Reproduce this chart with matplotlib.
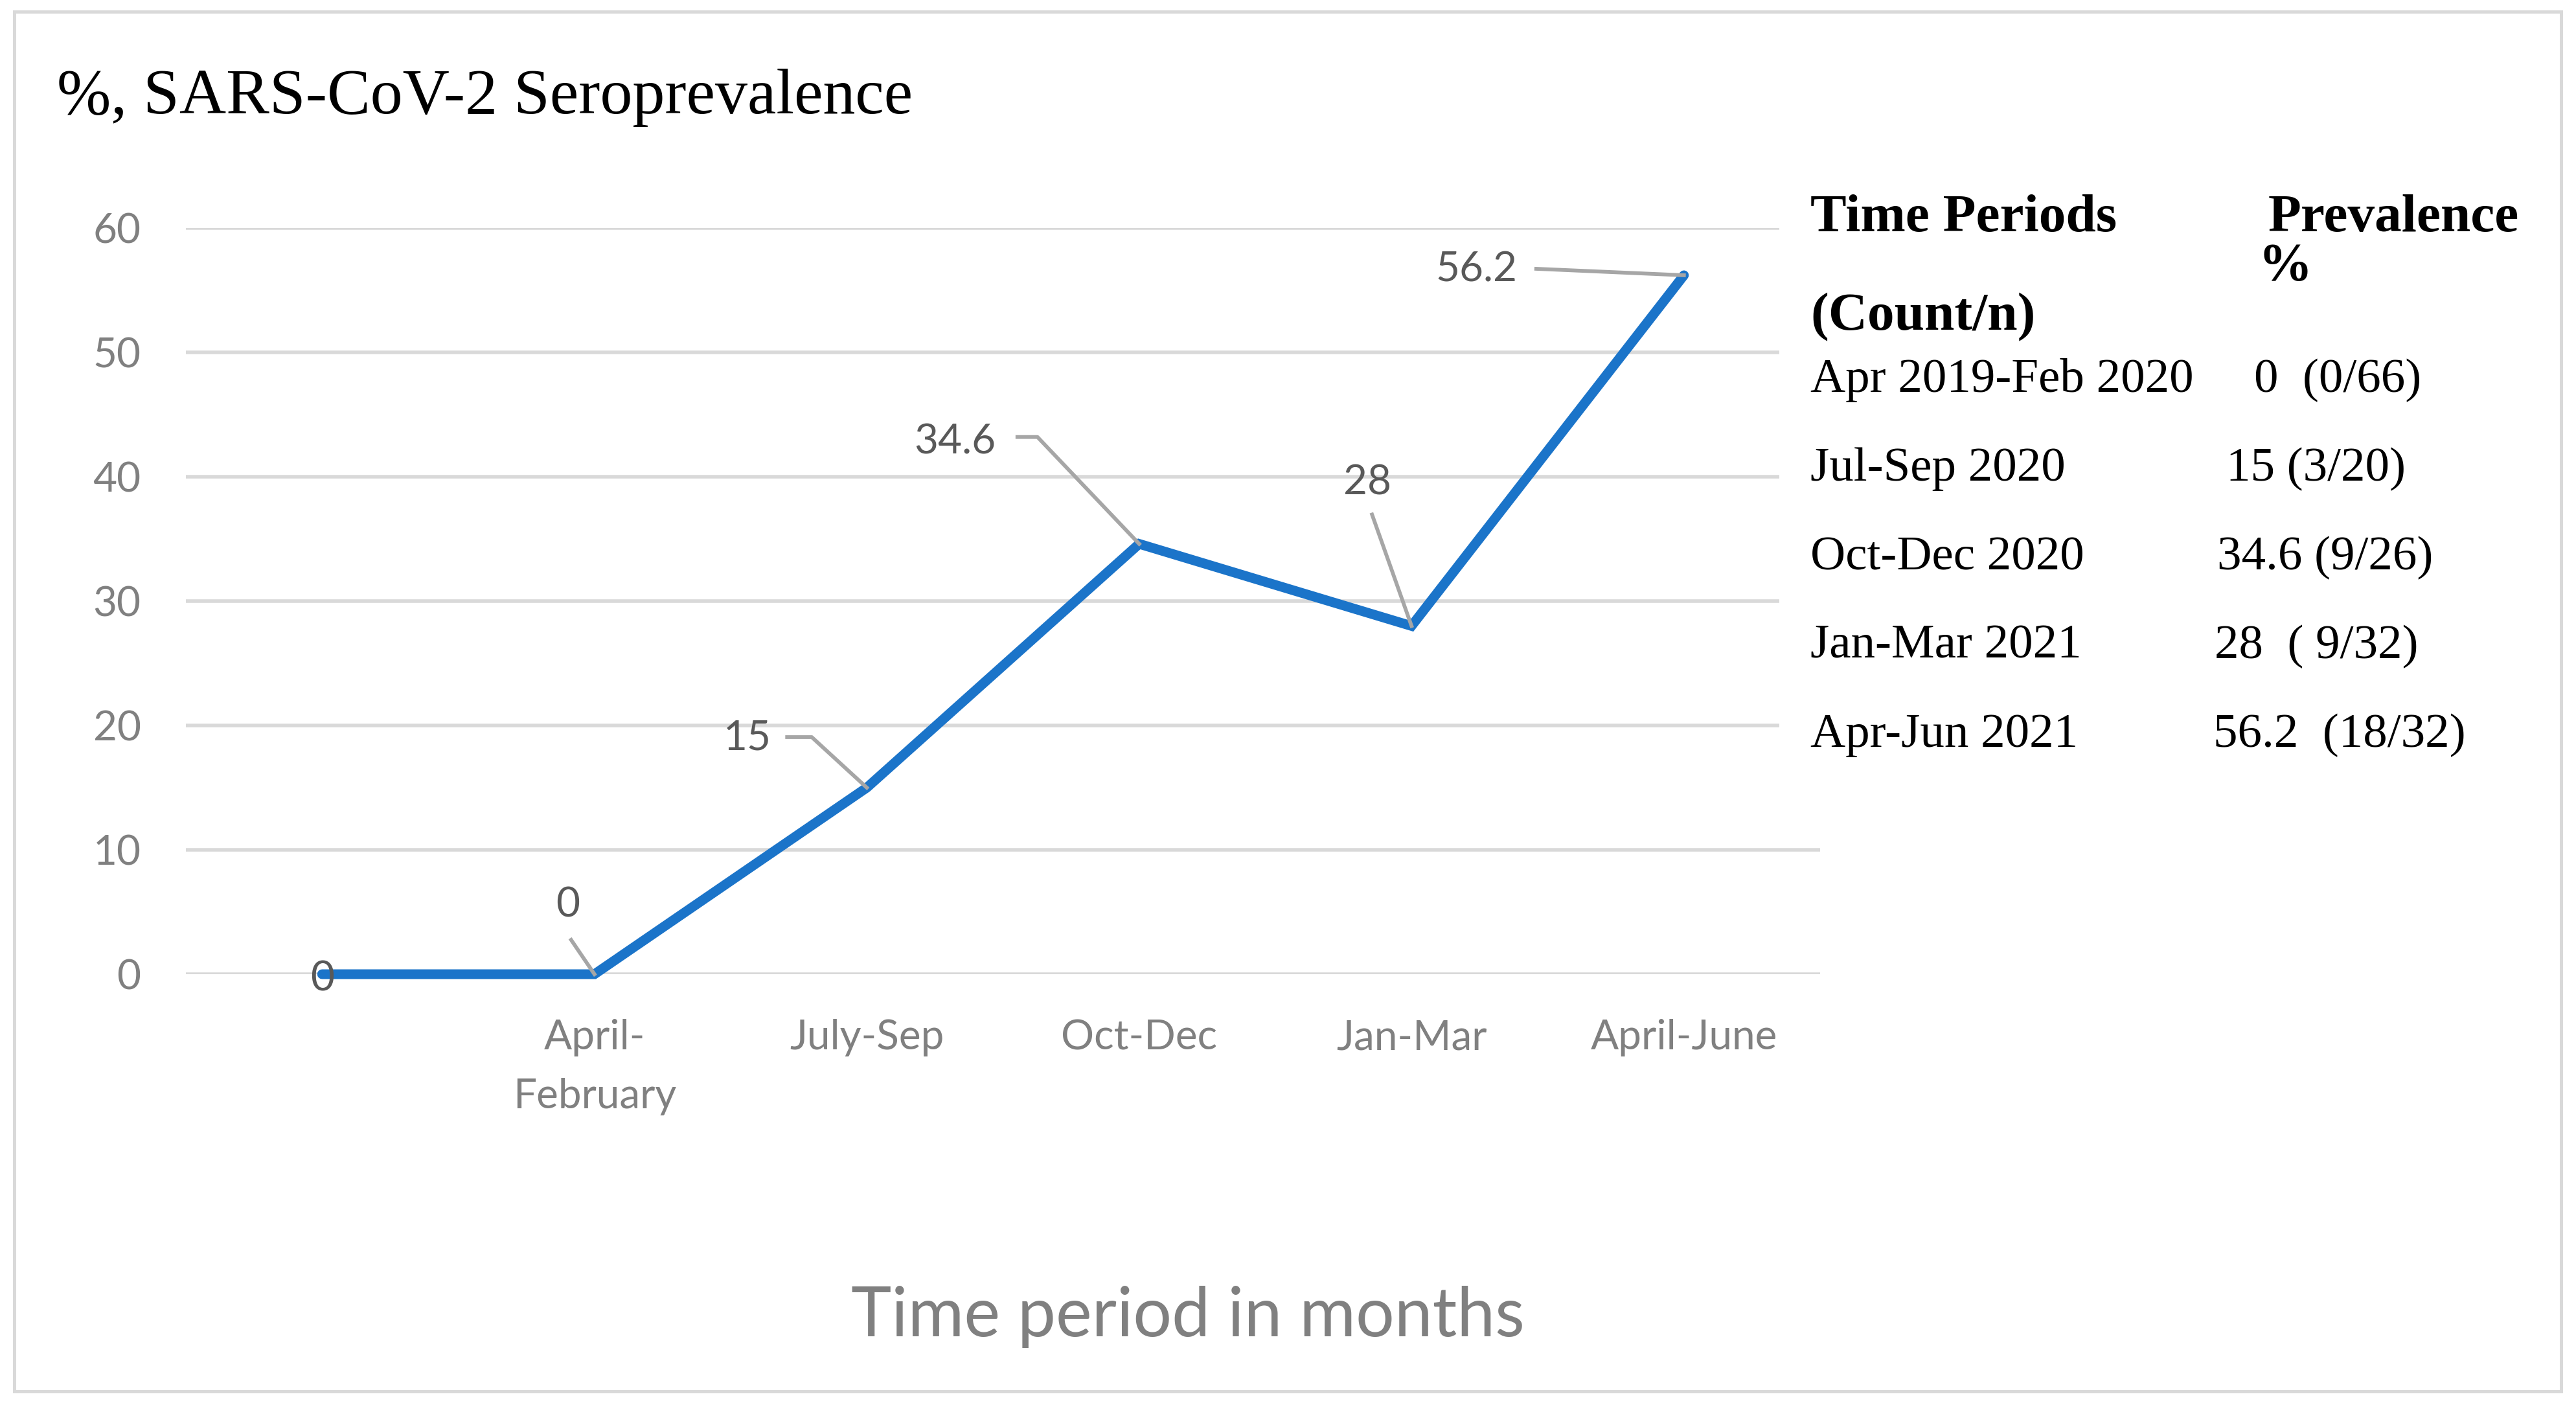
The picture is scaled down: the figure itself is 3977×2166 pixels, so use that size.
import numpy as np
import matplotlib.pyplot as plt
from matplotlib.patches import Rectangle

# chart data
categories = ["", "April-\nFebruary", "July-Sep", "Oct-Dec", "Jan-Mar", "April-June"]
prevalence = [0, 0, 15, 34.6, 28, 56.2]
y_ticks = [0, 10, 20, 30, 40, 50, 60]

# side table
table_periods = ["Apr 2019-Feb 2020", "Jul-Sep 2020", "Oct-Dec 2020", "Jan-Mar 2021", "Apr-Jun 2021"]
table_values = ["0  (0/66)", "15 (3/20)", "34.6 (9/26)", "28  ( 9/32)", "56.2  (18/32)"]

# data label placement, in pixels relative to each point
label_offsets = [(0, -8), (-41, 107), (-185, 76), (-284, 157), (-68, 221), (-320, 8)]
leader_paths = [None, [(-36, 53)], [(-123, 78), (-85, 78)],
                [(-188, 165), (-157, 165)], [(-61, 172)], [(-228, 10)]]
value_x = [3480, 3437, 3423, 3419, 3417]

W, H = 3977, 2166
BLUE = "#1B74C9"
GRID = "#D9D9D9"

plt.rcParams['font.family'] = ['Lato', 'DejaVu Sans']


def fx(px):
    return px / W


def fy(py):
    return 1 - py / H


fig = plt.figure(figsize=(W / 100, H / 100), dpi=100)
ax = fig.add_axes([fx(287), fy(1504), fx(2810) - fx(287), fy(352) - fy(1504)])

x = np.arange(len(categories))
ax.plot(x, prevalence, color=BLUE, lw=10.8, solid_joinstyle='miter',
        solid_capstyle='round', clip_on=False, zorder=3)

ax.set_xlim(-0.5, len(categories) - 0.5)
ax.set_ylim(0, 60)
ax.set_yticks(y_ticks)
ax.set_xticks(x)
ax.set_xticklabels(categories, linespacing=1.7)
for s in ax.spines.values():
    s.set_visible(False)
ax.grid(axis='y', color=GRID, lw=4)
ax.set_axisbelow(True)
ax.tick_params(axis='y', length=0, pad=50, labelsize=46, labelcolor='#808080')
ax.tick_params(axis='x', length=0, pad=50, labelsize=46, labelcolor='#808080')

# data labels with leader lines
for i, v in enumerate(prevalence):
    px, py = ax.transData.transform((i, v))
    dx, dy = label_offsets[i]
    lx, ly = ax.transData.inverted().transform((px + dx, py + dy))
    ax.text(lx, ly, f"{v:g}", ha='center', va='center', fontsize=46,
            color='#595959', zorder=5)
    if leader_paths[i]:
        pts = [(px + ox, py + oy) for ox, oy in leader_paths[i]] + [(px, py)]
        dpts = ax.transData.inverted().transform(pts)
        ax.plot(dpts[:, 0], dpts[:, 1], color='#A6A6A6', lw=4.2, clip_on=False, zorder=4)

# title and axis title
fig.text(fx(88), fy(175), "%, SARS-CoV-2 Seroprevalence", family='Liberation Serif',
         fontsize=72, va='baseline', ha='left')
fig.text(fx(1834), fy(2063), "Time period in months", fontsize=76,
         color='#808080', va='baseline', ha='center')

# white box behind the table, covering the gridline ends
fig.patches.append(Rectangle((fx(2747), fy(1185)), fx(2870) - fx(2747), fy(290) - fy(1185),
                             transform=fig.transFigure, facecolor='white',
                             edgecolor='none', zorder=1))

serif = 'Liberation Serif'
fig.text(fx(2795), fy(357), "Time Periods", family=serif, fontsize=60, fontweight='bold',
         va='baseline', zorder=4)
fig.text(fx(3502), fy(357), "Prevalence", family=serif, fontsize=60, fontweight='bold',
         va='baseline', zorder=4)
fig.text(fx(3486), fy(432), "%", family=serif, fontsize=60, fontweight='bold',
         va='baseline', zorder=4)
fig.text(fx(2795), fy(509), "(Count/n)", family=serif, fontsize=60, fontweight='bold',
         va='baseline', zorder=4)
for k, (period, val) in enumerate(zip(table_periods, table_values)):
    base = 605 + 137 * k
    fig.text(fx(2795), fy(base), period, family=serif, fontsize=54, va='baseline', zorder=4)
    fig.text(fx(value_x[k]), fy(base), val, family=serif, fontsize=54, va='baseline', zorder=4)

# outer frame
fig.patches.append(Rectangle((fx(22), fy(2148)), fx(3954) - fx(22), fy(18) - fy(2148),
                             transform=fig.transFigure, fill=False, edgecolor=GRID,
                             lw=3.6, zorder=1))

fig.savefig("out.png", dpi=100, facecolor='white')
